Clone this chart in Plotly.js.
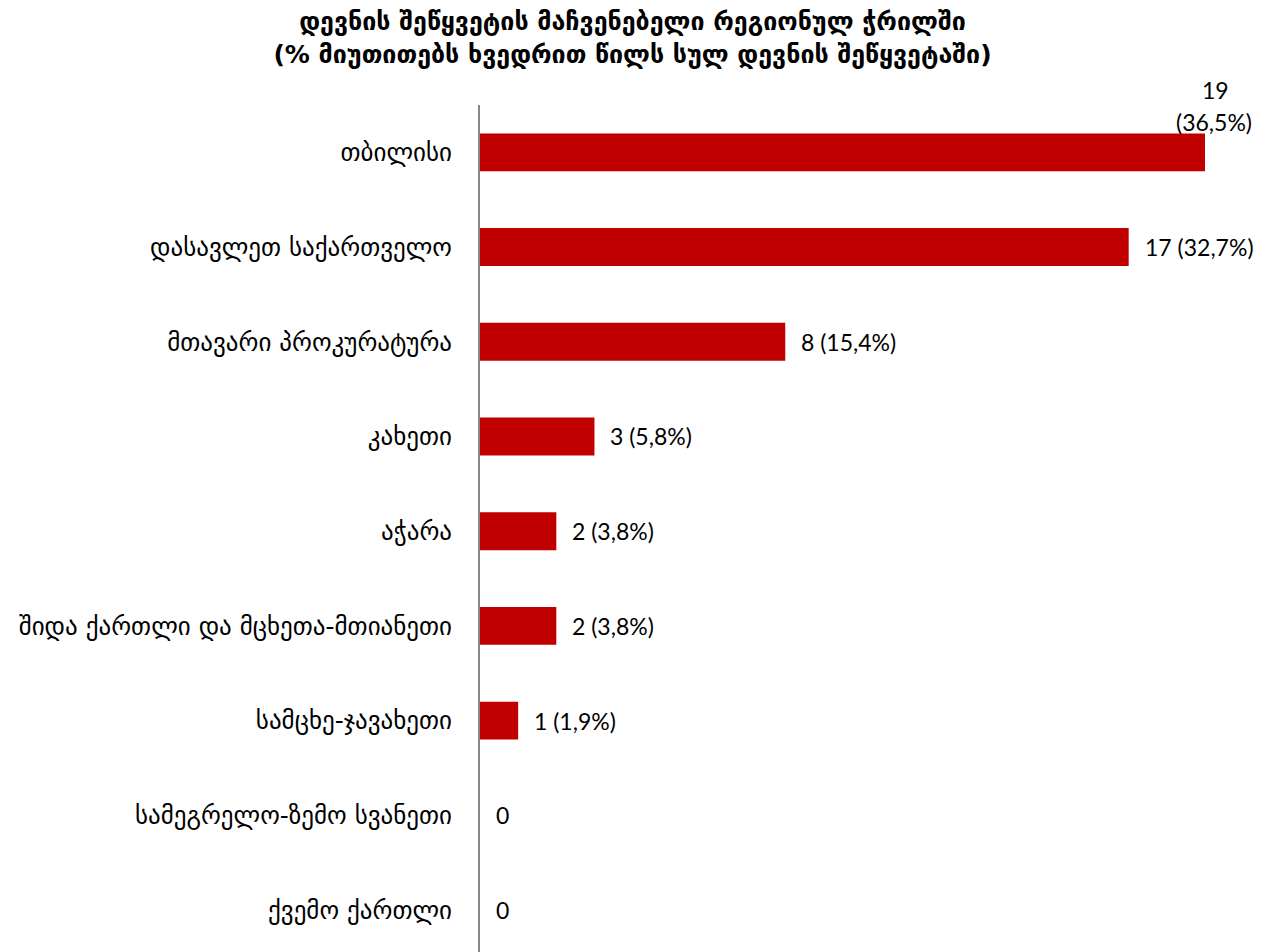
<!DOCTYPE html>
<html>
<head>
<meta charset="utf-8">
<script src="https://cdn.plot.ly/plotly-3.0.1.min.js"></script>
<style>html,body{margin:0;padding:0;background:#fff;}#chart{width:1265px;height:952px;}</style>
</head>
<body>
<div id="chart"></div>
<script>
const categories = [
  "თბილისი",
  "დასავლეთ საქართველო",
  "მთავარი პროკურატურა",
  "კახეთი",
  "აჭარა",
  "შიდა ქართლი და მცხეთა-მთიანეთი",
  "სამცხე-ჯავახეთი",
  "სამეგრელო-ზემო სვანეთი",
  "ქვემო ქართლი"
];
const counts = [19, 17, 8, 3, 2, 2, 1, 0, 0];
const percents = ["36,5%", "32,7%", "15,4%", "5,8%", "3,8%", "3,8%", "1,9%", "", ""];

const labelFont = {family: "Lato, 'Open Sans', sans-serif", size: 23, color: "#000"};
const annotations = [];
categories.forEach((c, i) => {
  const pct = percents[i] ? " (" + percents[i] + ")" : "";
  if (i === 0) {
    annotations.push({x: counts[i], y: c, xref: "x", yref: "y", text: String(counts[i]),
      showarrow: false, xanchor: "center", yanchor: "middle", xshift: 10, yshift: 62, font: labelFont});
    annotations.push({x: counts[i], y: c, xref: "x", yref: "y", text: "(" + percents[i] + ")",
      showarrow: false, xanchor: "center", yanchor: "middle", xshift: 9, yshift: 30, font: labelFont});
  } else {
    annotations.push({x: counts[i], y: c, xref: "x", yref: "y", text: counts[i] + pct,
      showarrow: false, xanchor: "left", yanchor: "middle", xshift: 14, font: labelFont});
  }
});

const trace = {
  type: "bar",
  orientation: "h",
  x: counts,
  y: categories,
  marker: {color: "#C00000"},
  hoverinfo: "none"
};

const layout = {
  width: 1265,
  height: 952,
  margin: {l: 480, r: 0, t: 105, b: 0},
  paper_bgcolor: "#fff",
  plot_bgcolor: "#fff",
  showlegend: false,
  bargap: 0.6,
  title: {
    text: "<b>დევნის შეწყვეტის მაჩვენებელი რეგიონულ ჭრილში<br>(% მიუთითებს ხვედრით წილს სულ დევნის შეწყვეტაში)</b>",
    x: 0.5, xref: "container", xanchor: "center",
    y: 0.968, yref: "container", yanchor: "top",
    font: {family: "'DejaVu Sans', sans-serif", size: 25, color: "#000"}
  },
  xaxis: {
    range: [0, 19 * 785 / 725],
    showgrid: false, zeroline: false, showticklabels: false, showline: false, ticks: "",
    fixedrange: true
  },
  yaxis: {
    type: "category",
    range: [8.443, -0.5],
    autorange: false,
    showgrid: false, zeroline: false,
    showline: true, linecolor: "#868686", linewidth: 2,
    ticks: "", ticklabelstandoff: 21,
    tickfont: {family: "'DejaVu Sans', sans-serif", size: 25, color: "#000"},
    fixedrange: true
  },
  annotations: annotations
};

Plotly.newPlot("chart", [trace], layout, {displayModeBar: false, staticPlot: true});
</script>
</body>
</html>
